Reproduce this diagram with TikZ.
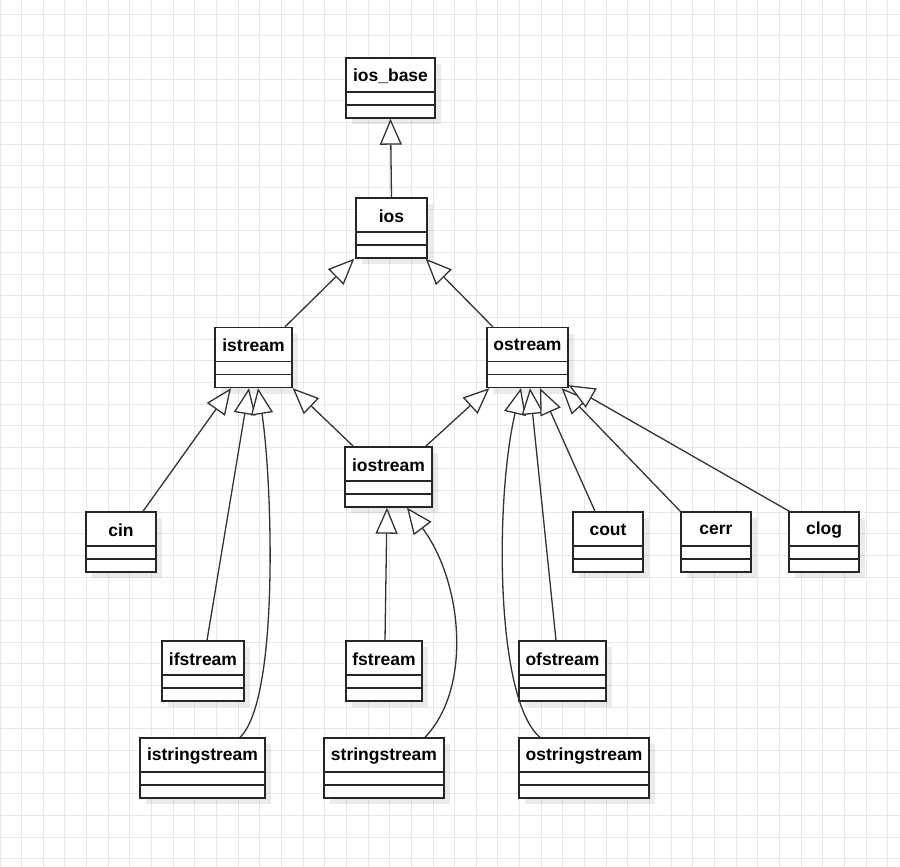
\documentclass[tikz,border=0pt]{standalone}
\usepackage{fontspec}
\setmainfont{Liberation Sans}
\usetikzlibrary{positioning, arrows.meta, calc, shadows}

\tikzset{
    gridline/.style={draw=black!9, line width=1pt},
    umlclass/.style={draw=black!85, line width=1.4pt, fill=white, minimum height=60pt, inner sep=0pt,
        drop shadow={shadow xshift=6pt, shadow yshift=-6pt, fill=black, opacity=0.08},
        path picture={
            \draw[line width=1.4pt, black!85] ([yshift=13pt]path picture bounding box.south west) -- ([yshift=13pt]path picture bounding box.south east);
            \draw[line width=1.4pt, black!85] ([yshift=26pt]path picture bounding box.south west) -- ([yshift=26pt]path picture bounding box.south east);
        }},
    classname/.style={anchor=center, yshift=-18.5pt, inner sep=0pt, font=\fontsize{17.5}{20}\selectfont\bfseries},
    inherit/.style={draw=black!80, line width=1.3pt, -{Triangle[length=26pt, width=22pt, fill=white]}}
}

\begin{document}
\begin{tikzpicture}[x=1pt, y=-1pt]
    \useasboundingbox (0,0) rectangle (900,867);
    % ---------------- GRID ---------------- %
    \fill[white] (0,0) rectangle (900,867);
    \foreach \x in {0,21.65,...,900} \draw[gridline] (\x,0) -- (\x,867);
    \foreach \y in {14.3,35.95,...,867} \draw[gridline] (0,\y) -- (900,\y);

    % ---------------- CLASSES ---------------- %
    \node[umlclass, minimum width=89pt, label={[classname]north:ios\_base}] (iosbase) at (390.5,88) {};
    \node[umlclass, minimum width=71pt, label={[classname]north:ios}] (ios) at (391.5,228) {};
    \node[umlclass, minimum width=77pt, label={[classname]north:istream}] (istream) at (253.5,357.5) {};
    \node[umlclass, minimum width=81pt, label={[classname]north:ostream}] (ostream) at (527.5,357.5) {};
    \node[umlclass, minimum width=87pt, label={[classname]north:iostream}] (iostream) at (388.5,477) {};

    % Objects
    \node[umlclass, minimum width=70pt, label={[classname]north:cin}] (cin) at (121,542) {};
    \node[umlclass, minimum width=70pt, label={[classname]north:cout}] (cout) at (608,542) {};
    \node[umlclass, minimum width=70pt, label={[classname]north:cerr}] (cerr) at (716,542) {};
    \node[umlclass, minimum width=70pt, label={[classname]north:clog}] (clog) at (824,542) {};

    % File and string streams
    \node[umlclass, minimum width=82pt, label={[classname]north:ifstream}] (ifstream) at (203,671) {};
    \node[umlclass, minimum width=76pt, label={[classname]north:fstream}] (fstream) at (384,671) {};
    \node[umlclass, minimum width=87pt, label={[classname]north:ofstream}] (ofstream) at (562.5,671) {};
    \node[umlclass, minimum width=125pt, label={[classname]north:istringstream}] (istringstream) at (202.5,768) {};
    \node[umlclass, minimum width=120pt, label={[classname]north:stringstream}] (stringstream) at (384,768) {};
    \node[umlclass, minimum width=130pt, label={[classname]north:ostringstream}] (ostringstream) at (584,768) {};

    % ---------------- INHERITANCE ---------------- %
    \draw[inherit] (ios.north) -- (iosbase.south);
    \draw[inherit] ([xshift=31.5pt]istream.north) -- ([xshift=-1pt]ios.south west);
    \draw[inherit] ([xshift=6.5pt]ostream.north west) -- ([xshift=-2pt]ios.south east);
    \draw[inherit] ([xshift=9pt]iostream.north west) -- (istream.south east);
    \draw[inherit] ([xshift=-7pt]iostream.north east) -- ([xshift=3pt]ostream.south west);

    % into istream
    \draw[inherit] ([xshift=22pt]cin.north) -- ([xshift=-22.5pt]istream.south);
    \draw[inherit] ([xshift=4pt]ifstream.north) -- ([xshift=-4.5pt]istream.south);
    \draw[inherit] ([xshift=37.5pt]istringstream.north) .. controls +(40,-38) and +(14,90) .. ([xshift=4.5pt]istream.south);

    % into iostream
    \draw[inherit] ([xshift=1pt]fstream.north) -- ([xshift=-1.5pt]iostream.south);
    \draw[inherit] ([xshift=41pt]stringstream.north) .. controls +(48,-50) and +(55,73) .. ([xshift=18.5pt]iostream.south);

    % into ostream
    \draw[inherit] ([xshift=-44pt]ostringstream.north) .. controls +(-45,-38) and +(-26,110) .. ([xshift=-6.5pt]ostream.south);
    \draw[inherit] ([xshift=-6.5pt]ofstream.north) -- ([xshift=2.5pt]ostream.south);
    \draw[inherit] ([xshift=-13pt]cout.north) -- ([xshift=12.5pt]ostream.south);
    \draw[inherit] (cerr.north west) -- ([xshift=-7pt]ostream.south east);
    \draw[inherit] ([xshift=1pt]clog.north west) -- ([yshift=3pt]ostream.south east);
\end{tikzpicture}
\end{document}
